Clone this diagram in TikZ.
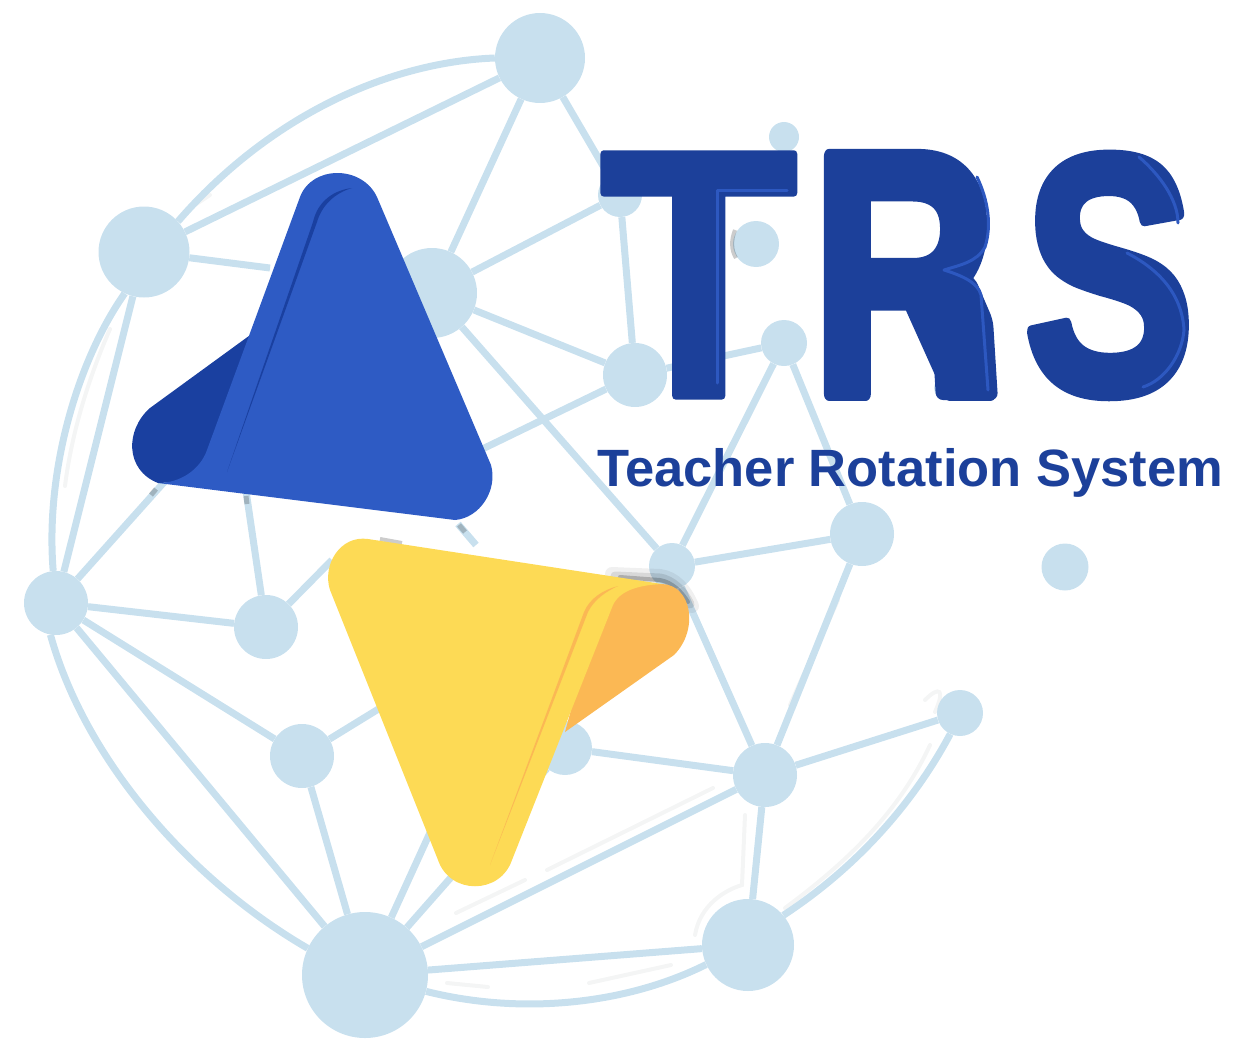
\documentclass[tikz,border=0pt]{standalone}
\usepackage{fontspec}
\usepackage{graphicx}
\usetikzlibrary{backgrounds}
\setmainfont{Liberation Sans}
\newfontfamily\logofont[FakeBold=2]{Liberation Sans Bold}
\newfontfamily\logofontR[FakeBold=4]{Liberation Sans Bold}
\newfontfamily\logofontS[FakeBold=3.5]{Liberation Sans Bold}
\newfontfamily\subfont{Liberation Sans Bold}
\definecolor{netblue}{HTML}{C8E0EE}
\definecolor{ghost}{HTML}{F4F5F5}
\definecolor{triblue}{HTML}{2E5BC4}
\definecolor{tridark}{HTML}{1A40A0}
\definecolor{trsblue}{HTML}{1C409A}
\definecolor{trslight}{HTML}{2D58C0}
\definecolor{triyellow}{HTML}{FDDA55}
\definecolor{triorange}{HTML}{FBB854}
\tikzset{
  hub/.style={circle,fill=netblue,draw=none,inner sep=0pt,minimum size=#1},
  link/.style={draw=netblue,line width=7pt},
  ghostline/.style={draw=ghost,line width=4pt,line cap=round},
  glint/.style={draw=trslight,line width=3pt,line cap=round},
  smudge/.style={draw=black,opacity=.2,line width=5pt},
  letter/.style={inner sep=0pt,outer sep=0pt,anchor=base west,text=trsblue,line join=round,draw=none},
}
\begin{document}
\begin{tikzpicture}[x=1pt,y=-1pt,line join=round]
\useasboundingbox (0,0) rectangle (1241,1038);
% hubs
\node[hub=90pt] (a) at (540,58) {};
\node[hub=91pt] (b) at (144,252) {};
\node[hub=90pt] (c) at (432,293) {};
\node[hub=64pt] (d) at (635,375) {};
\node[hub=30pt] (e) at (784,137) {};
\node[hub=46pt] (f) at (756,244) {};
\node[hub=46pt] (g) at (784,343) {};
\node[hub=64pt] (h) at (862,534) {};
\node[hub=47pt] (i) at (1065,567) {};
\node[hub=46pt] (j) at (672,566) {};
\node[hub=64pt] (k) at (56,603) {};
\node[hub=64pt] (l) at (266,627) {};
\node[hub=64pt] (m) at (302,756) {};
\node[hub=54pt] (n) at (565,748) {};
\node[hub=64pt] (o) at (765,775) {};
\node[hub=46pt] (p) at (960,713) {};
\node[hub=92pt] (q) at (748,945) {};
\node[hub=126pt] (r) at (365,975) {};
\node[hub=44pt] (s) at (620,195) {};
\node[hub=24pt] (t) at (946,388) {};
% free ends hidden behind the triangles
\coordinate (x1) at (270,268);
\coordinate (x2) at (470,455);
\coordinate (x3) at (175,470);
\coordinate (x4) at (240,450);
\coordinate (x5) at (332,560);
\coordinate (x6) at (385,705);
\coordinate (x7) at (470,745);
\coordinate (x8) at (458,524);
\coordinate (x9) at (476,545);
\begin{scope}[on background layer]
  % faint ghost strokes
  \draw[ghostline] (838,600) .. controls (825,630) and (805,670) .. (790,705);
  \draw[ghostline] (925,700) .. controls (940,685) and (945,690) .. (935,712);
  \draw[ghostline] (930,745) .. controls (900,810) and (850,860) .. (785,908);
  \draw[ghostline] (745,815) -- (742,885) .. controls (725,890) and (700,905) .. (695,935);
  \draw[ghostline] (713,788) -- (547,870);
  \draw[ghostline] (525,880) -- (456,913);
  \draw[ghostline] (447,983) -- (488,987);
  \draw[ghostline] (589,983) -- (671,965);
  \draw[ghostline] (195,205) -- (210,195);
  \draw[ghostline] (110,329) .. controls (90,375) and (72,430) .. (65,486);
  % straight links
  \draw[link] (a) -- (b);
  \draw[link] (a) -- (c);
  \draw[link] (a) -- (s);
  \draw[link] (c) -- (s);
  \draw[link] (s) -- (d);
  \draw[link] (c) -- (d);
  \draw[link] (c) -- (j);
  \draw[link] (b) -- (x1);
  \draw[link] (b) -- (k);
  \draw[link] (d) -- (x2);
  \draw[link] (d) -- (g);
  \draw[link] (g) -- (j);
  \draw[link] (g) -- (h);
  \draw[link] (h) -- (j);
  \draw[link] (h) -- (o);
  \draw[link] (j) -- (o);
  \draw[link] (n) -- (o);
  \draw[link] (o) -- (p);
  \draw[link] (o) -- (q);
  \draw[link] (o) -- (r);
  \draw[link] (q) -- (r);
  \draw[link] (r) -- (n);
  \draw[link] (r) -- (x7);
  \draw[link] (r) -- (m);
  \draw[link] (r) -- (k);
  \draw[link] (k) -- (l);
  \draw[link] (k) -- (m);
  \draw[link] (k) -- (x3);
  \draw[link] (l) -- (x4);
  \draw[link] (l) -- (x5);
  \draw[link] (m) -- (x6);
  \draw[link] (x8) -- (x9);
  % arcs of the globe
  \draw[link] (a.180) .. controls (390,62) and (270,115) .. (b.42);
  \draw[link] (b.245) .. controls (78,360) and (45,470) .. (k.95);
  \draw[link] (k.260) .. controls (85,760) and (190,880) .. (r.155);
  \draw[link] (r.-15) .. controls (520,1015) and (625,1005) .. (q.205);
  \draw[link] (q.40) .. controls (860,865) and (915,800) .. (p.245);
\end{scope}
% grey traces
\draw[smudge,line width=4pt] (735,230) .. controls (731,240) and (731,250) .. (736,258);
\draw[smudge] (246,496) -- (247,504);
\draw[smudge] (156,489) -- (151,495);
\draw[smudge] (459,525) -- (465,532);
\draw[smudge,line width=4pt] (380,539) -- (402,543);
% blue triangle
\path[fill=tridark,draw=none] (253,333) -- (150,408) .. controls (125,430) and (125,470) .. (158,483) -- (225,480) -- cycle;
\path[fill=triblue,draw=none] (300,197) .. controls (312,165) and (362,165) .. (377,197)
  -- (491,465) .. controls (498,490) and (480,518) .. (455,520)
  -- (158,483) .. controls (180,483) and (200,470) .. (207,450)
  -- cycle;
\path[fill=tridark,draw=none] (227,472) -- (313,222) .. controls (318,200) and (335,190) .. (352,188)
  .. controls (335,193) and (322,205) .. (317,222) -- cycle;
% dark smudge at the yellow tip
\draw[black,line width=14pt,opacity=.06,line cap=round] (612,574) -- (660,576) .. controls (675,578) and (685,590) .. (692,606);
\draw[black,line width=9pt,opacity=.1,line cap=round] (615,576) -- (660,578) .. controls (672,580) and (683,590) .. (690,604);
\draw[black,line width=4pt,opacity=.2,line cap=round] (620,577) -- (660,580) .. controls (672,582) and (682,592) .. (688,602);
% yellow triangle
\path[fill=triorange,draw=none] (662,584) .. controls (692,585) and (699,630) .. (674,655) -- (565,732) -- (590,640) -- (620,585) -- cycle;
\path[fill=triyellow,draw=none] (368,539) -- (662,584)
  .. controls (640,585) and (620,590) .. (613,605)
  -- (512,860) .. controls (500,895) and (450,895) .. (438,860)
  -- (330,590) .. controls (322,565) and (340,535) .. (368,539) -- cycle;
\path[fill=triorange,draw=none] (490,865) -- (584,612) .. controls (590,598) and (603,590) .. (618,586)
  .. controls (605,592) and (594,600) .. (588,612) -- cycle;
% letters
\node[letter] (T) at (600,396) {\resizebox{197pt}{242pt}{\logofont T}};
\node[letter] (R) at (812,394) {\resizebox{184pt}{238pt}{\logofontR R}};
\node[letter] (S) at (1024,392) {\resizebox{170pt}{236pt}{\logofontS S}};
\node[letter] (U) at (597,486) {\resizebox{626pt}{!}{\subfont Teacher Rotation System}};
% the upright leg of the R
\path[fill=trsblue,draw=none,rounded corners=7pt] (930,296) -- (936,400) -- (998,400) -- (993,320) -- (975,278) -- (945,262) -- cycle;
% highlights on the letters
\draw[glint] (717,383) -- (717,190) -- (787,190);
\draw[glint] (977,177) .. controls (988,200) and (992,225) .. (985,247) .. controls (977,262) and (960,265) .. (944,270)
  .. controls (960,275) and (978,282) .. (981,295) -- (988,390);
\draw[glint] (1139,157) .. controls (1160,175) and (1178,200) .. (1178,223);
\draw[glint] (1127,253) .. controls (1160,270) and (1182,295) .. (1184,330) .. controls (1182,355) and (1165,380) .. (1143,387);
\end{tikzpicture}
\end{document}
